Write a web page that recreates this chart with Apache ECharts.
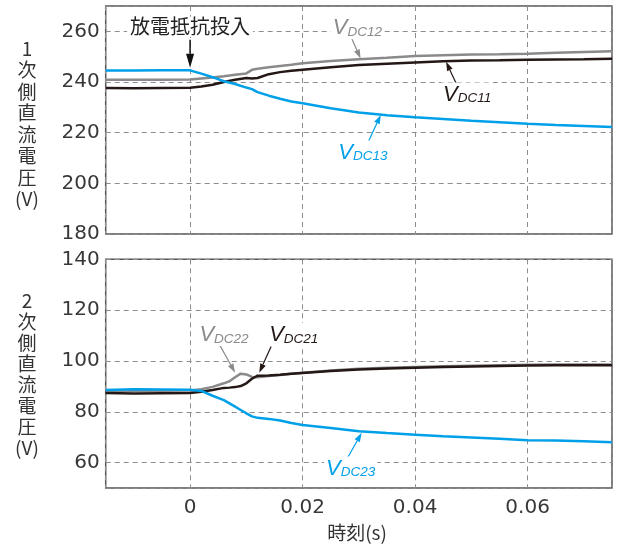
<!DOCTYPE html>
<html>
<head>
<meta charset="utf-8">
<script src="https://cdn.jsdelivr.net/npm/echarts@6/dist/echarts.min.js"></script>
<style>
html, body { margin: 0; padding: 0; background: #fff; }
#chart { width: 617px; height: 549px; }
</style>
</head>
<body>
<div id="chart"></div>
<script>
// ---- primary side DC voltages (V) ----
const timeTop = [-0.015, -0.01, -0.005, 0, 0.002, 0.004, 0.006, 0.008, 0.010, 0.011, 0.012, 0.014, 0.016, 0.018,
  0.020, 0.025, 0.030, 0.035, 0.040, 0.045, 0.050, 0.055, 0.060, 0.065, 0.070, 0.075];
const vdc11 = [237.6, 237.5, 237.6, 237.7, 238.2, 238.9, 240.0, 240.9, 241.6, 241.4, 241.6, 243.1, 243.9, 244.4,
  244.8, 245.8, 246.7, 247.2, 247.7, 248.2, 248.5, 248.6, 248.8, 248.9, 249.0, 249.2];
const vdc12 = [240.9, 240.9, 240.9, 241.0, 241.4, 241.8, 242.3, 242.9, 243.4, 244.8, 245.2, 245.8, 246.3, 246.8,
  247.4, 248.3, 249.0, 249.6, 250.3, 250.6, 250.9, 251.0, 251.2, 251.5, 251.8, 252.1];
const vdc13 = [244.5, 244.5, 244.6, 244.6, 243.3, 241.9, 240.3, 239.2, 237.8, 237.2, 236.0, 234.6, 233.4, 232.3,
  231.6, 229.6, 228.0, 226.9, 226.1, 225.4, 224.7, 224.1, 223.5, 223.0, 222.6, 222.2];

// ---- secondary side DC voltages (V) ----
const timeBottom = [-0.015, -0.01, -0.005, 0, 0.002, 0.004, 0.006, 0.007, 0.008, 0.009, 0.010, 0.011, 0.012, 0.014,
  0.016, 0.018, 0.020, 0.025, 0.030, 0.035, 0.040, 0.045, 0.050, 0.055, 0.060, 0.065, 0.070, 0.075];
const vdc21 = [87.4, 87.2, 87.3, 87.4, 87.9, 88.6, 89.4, 89.5, 89.7, 90.1, 91.2, 93.0, 94.2, 94.3,
  94.6, 95.0, 95.3, 96.0, 96.6, 97.0, 97.3, 97.6, 97.8, 98.0, 98.2, 98.3, 98.3, 98.3];
const vdc22 = [88.3, 88.3, 88.3, 88.4, 88.9, 89.8, 91.2, 92.0, 93.6, 95.0, 94.7, 93.7, 93.6, 94.1,
  94.5, 95.0, 95.4, 96.2, 96.9, 97.3, 97.6, 97.9, 98.1, 98.3, 98.5, 98.6, 98.6, 98.6];
const vdc23 = [88.6, 88.9, 88.8, 88.7, 88.2, 86.3, 84.6, 83.3, 82.0, 80.7, 79.4, 78.2, 77.6, 77.2,
  76.6, 75.6, 74.8, 73.6, 72.3, 71.6, 71.0, 70.4, 69.9, 69.4, 68.8, 68.7, 68.4, 68.0];

// axis ranges and tick steps
const timeRange = [-0.015, 0.075];
const timeStep = 0.02;
const topRange = [180, 270];
const bottomRange = [50, 140];
const voltStep = 20;

const COL_BLACK = '#231815';
const COL_GRAY = '#8a8a8a';
const COL_BLUE = '#00a0e9';
const TICK_FONT = 'DejaVu Sans';
const CJK_FONT = '"Noto Sans CJK JP"';

const chart = echarts.init(document.getElementById('chart'), null, { renderer: 'canvas' });

function onStep(v, step) {
  return Math.abs(v / step - Math.round(v / step)) < 1e-6;
}

function pairs(t, v) { return t.map((x, i) => [x, v[i]]); }

function xAxisFor(gridIndex, showLabels) {
  return {
    type: 'value', gridIndex, min: timeRange[0], max: timeRange[1], splitNumber: 4,
    axisLine: { show: false }, axisTick: { show: false },
    axisLabel: {
      show: showLabels, margin: 10, color: '#383838', fontSize: 20, fontFamily: TICK_FONT,
      formatter: v => onStep(v, timeStep) ? String(Math.round(v / timeStep) * 2 / 100) : ''
    },
    splitLine: { show: true, lineStyle: { color: '#8c8c8c', width: 1, type: [5, 4] } }
  };
}
function yAxisFor(gridIndex, range) {
  return {
    type: 'value', gridIndex, min: range[0], max: range[1], splitNumber: 4,
    axisLine: { show: false }, axisTick: { show: false },
    axisLabel: {
      margin: 6, color: '#383838', fontSize: 20, fontFamily: TICK_FONT,
      formatter: v => onStep(v, voltStep) ? String(Math.round(v)) : ''
    },
    splitLine: { show: true, lineStyle: { color: '#8c8c8c', width: 1, type: [5, 4] } }
  };
}
function line(name, gi, t, v, color) {
  return {
    name, type: 'line', xAxisIndex: gi, yAxisIndex: gi, data: pairs(t, v),
    showSymbol: false, smooth: false, z: 3,
    lineStyle: { color, width: 2.5 }, animation: false
  };
}

const gridStyle = { show: true, borderColor: '#555', borderWidth: 1.5, backgroundColor: 'transparent' };

chart.setOption({
  animation: false,
  grid: [
    Object.assign({ left: 105.7, top: 6, width: 506.3, height: 228 }, gridStyle),
    Object.assign({ left: 105.7, top: 259.3, width: 506.3, height: 228.7 }, gridStyle)
  ],
  xAxis: [xAxisFor(0, false), xAxisFor(1, true)],
  yAxis: [yAxisFor(0, topRange), yAxisFor(1, bottomRange)],
  series: [
    line('VDC12', 0, timeTop, vdc12, COL_GRAY),
    line('VDC11', 0, timeTop, vdc11, COL_BLACK),
    line('VDC13', 0, timeTop, vdc13, COL_BLUE),
    line('VDC22', 1, timeBottom, vdc22, COL_GRAY),
    line('VDC21', 1, timeBottom, vdc21, COL_BLACK),
    line('VDC23', 1, timeBottom, vdc23, COL_BLUE)
  ]
});

// ---- annotations, placed in data coordinates ----
function px(gi, pt) { return chart.convertToPixel({ gridIndex: gi }, pt); }

function arrow(gi, from, to, color, headLen, headHalf, width) {
  const a = px(gi, from), b = px(gi, to);
  const dx = b[0] - a[0], dy = b[1] - a[1];
  const len = Math.hypot(dx, dy);
  const ux = dx / len, uy = dy / len, nx = -uy, ny = ux;
  const bx = b[0] - ux * headLen, by = b[1] - uy * headLen;
  return [
    { type: 'line', z: 10, shape: { x1: a[0], y1: a[1], x2: bx, y2: by },
      style: { stroke: color, lineWidth: width } },
    { type: 'polygon', z: 10, shape: { points: [[b[0], b[1]], [bx + nx * headHalf, by + ny * headHalf], [bx - nx * headHalf, by - ny * headHalf]] },
      style: { fill: color } }
  ];
}

function vLabel(gi, at, sub, color) {
  const p = px(gi, at);
  return {
    type: 'text', z: 11, x: p[0], y: p[1],
    style: {
      text: '{v|V}{s|' + sub + '}',
      align: 'left', verticalAlign: 'middle',
      backgroundColor: '#fff', padding: [0, 2, 0, 2],
      rich: {
        v: { fontSize: 22, fontStyle: 'italic', fontFamily: 'Liberation Sans', fill: color, lineHeight: 23, verticalAlign: 'bottom' },
        s: { fontSize: 13.5, fontStyle: 'italic', fontFamily: 'Liberation Sans', fill: color, lineHeight: 13, verticalAlign: 'bottom' }
      }
    }
  };
}

const eventPos = px(0, [0, 261.8]);
const graphics = [
  {
    type: 'text', z: 11, x: eventPos[0], y: eventPos[1],
    style: { text: '放電抵抗投入', font: '20px ' + CJK_FONT, fill: '#222', align: 'center', verticalAlign: 'middle',
      backgroundColor: '#fff', padding: [0, 3, 0, 3] }
  },
  ...arrow(0, [0, 256.7], [0, 245.6], '#111', 14, 4, 1.5),

  vLabel(0, [0.0250, 261.4], 'DC12', COL_GRAY),
  ...arrow(0, [0.0287, 257.4], [0.0303, 249.3], COL_GRAY, 9, 3, 1.2),
  vLabel(0, [0.0446, 235.3], 'DC11', COL_BLACK),
  ...arrow(0, [0.0475, 238.5], [0.0455, 248.0], COL_BLACK, 9, 3, 1.2),
  vLabel(0, [0.0260, 212.4], 'DC13', COL_BLUE),
  ...arrow(0, [0.0316, 216.0], [0.0339, 227.0], COL_BLUE, 9, 3, 1.2),

  vLabel(1, [0.0013, 110.4], 'DC22', COL_GRAY),
  ...arrow(1, [0.0050, 107.3], [0.0080, 95.4], COL_GRAY, 9, 3, 1.2),
  vLabel(1, [0.0137, 110.4], 'DC21', COL_BLACK),
  ...arrow(1, [0.0144, 105.7], [0.0123, 95.4], COL_BLACK, 9, 3, 1.2),
  vLabel(1, [0.0238, 57.9], 'DC23', COL_BLUE),
  ...arrow(1, [0.0280, 61.9], [0.0305, 71.7], COL_BLUE, 9, 3, 1.2),

  // axis titles
  {
    type: 'text', x: 27, y: 124,
    style: { text: '1\n次\n側\n直\n流\n電\n圧\n(V)', font: '19px ' + CJK_FONT, fill: '#333',
      align: 'center', verticalAlign: 'middle', lineHeight: 21.5 }
  },
  {
    type: 'text', x: 27, y: 374,
    style: { text: '2\n次\n側\n直\n流\n電\n圧\n(V)', font: '19px ' + CJK_FONT, fill: '#333',
      align: 'center', verticalAlign: 'middle', lineHeight: 21 }
  },
  {
    type: 'text', x: 357, y: 533,
    style: { text: '時刻(s)', font: '19px ' + CJK_FONT, fill: '#333', align: 'center', verticalAlign: 'middle' }
  }
];
chart.setOption({ graphic: graphics });
</script>
</body>
</html>
